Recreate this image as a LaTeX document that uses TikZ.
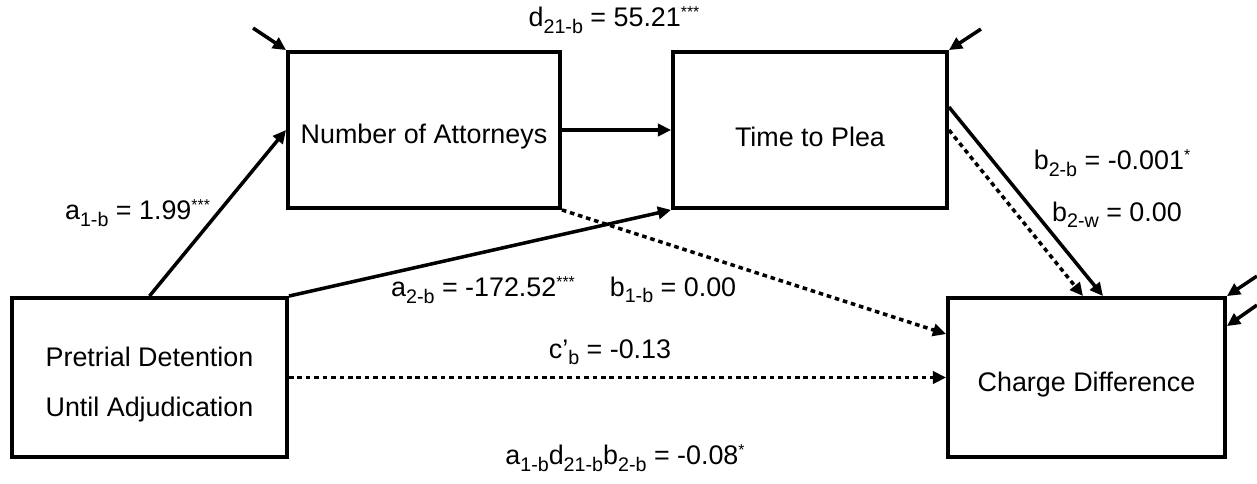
\documentclass[tikz,border=0pt]{standalone}
\usepackage{fontspec}
\setmainfont{Liberation Sans}
\usetikzlibrary{arrows.meta, positioning, calc}

\newcommand{\lo}[1]{\raisebox{-3.6pt}{\fontsize{11.2}{12}\selectfont #1}}
\newcommand{\hi}[1]{\raisebox{5.2pt}{\fontsize{9}{10}\selectfont #1}}
\newcommand{\dropstrut}{\rule{0pt}{19pt}}

\begin{document}
\begin{tikzpicture}[
        box/.style={rectangle, draw=black, line width=2.2pt, align=center, font=\fontsize{15.3}{18.4}\selectfont},
        lbl/.style={font=\fontsize{15.3}{18.4}\selectfont, inner sep=0pt},
        arrow/.style={-{Triangle[length=7.5pt,width=7pt]}, line width=2pt, black},
        dotarrow/.style={arrow, dash pattern=on 2.6pt off 2.2pt}
    ]
        \useasboundingbox (0,0) rectangle (25.14,9.66);

        % Nodes
        \node[box, minimum width=5.5cm, minimum height=3.18cm] (pre) at (2.99,2.11) {\dropstrut Pretrial Detention\\[10pt]Until Adjudication};
        \node[box, minimum width=5.44cm, minimum height=3.12cm] (num) at (8.48,7.06) {\dropstrut Number of Attorneys};
        \node[box, minimum width=5.48cm, minimum height=3.12cm] (time) at (16.2,7.06) {\dropstrut Time to Plea};
        \node[box, minimum width=5.54cm, minimum height=3.18cm] (charge) at (21.73,2.11) {\dropstrut Charge Difference};

        % Error terms
        \coordinate (enum) at ($(num.north west)+(-0.66,0.44)$);
        \coordinate (etime) at ($(time.north east)+(0.64,0.42)$);
        \coordinate (echa) at ($(charge.north east)+(0.6,0.4)$);
        \coordinate (echb) at ($(charge.north east)+(0.6,-0.18)$);

        % Arrows
        \draw[arrow] (pre.north) -- (num.west);
        \draw[arrow] (num.east) -- (time.west);
        \draw[arrow] (pre.north east) -- (time.south west);
        \draw[dotarrow] (num.south east) -- ([yshift=-0.76cm]charge.north west);
        \draw[dotarrow] (pre.east) -- (charge.west);
        \draw[arrow] ([yshift=0.46cm]time.east) -- ([xshift=0.33cm]charge.north);
        \draw[dotarrow] (time.east) -- ([xshift=-0.07cm]charge.north);
        \draw[arrow] (enum) -- (num.north west);
        \draw[arrow] (etime) -- (time.north east);
        \draw[arrow] (echa) -- (charge.north east);
        \draw[arrow] (echb) -- ([yshift=-0.6cm]charge.north east);

        % Labels
        \node[lbl] (d21) at (12.28,9.26) {d\lo{21-b} = 55.21\hi{***}};
        \node[lbl] (a1) at (2.75,5.40) {a\lo{1-b} = 1.99\hi{***}};
        \node[lbl] (a2) at (9.66,3.86) {a\lo{2-b} = -172.52\hi{***}};
        \node[lbl] (b1) at (13.46,3.86) {b\lo{1-b} = 0.00};
        \node[lbl] (cp) at (12.2,2.62) {c’\lo{b} = -0.13};
        \node[lbl] (b2b) at (22.24,6.40) {b\lo{2-b} = -0.001\hi{*}};
        \node[lbl] (b2w) at (22.34,5.36) {b\lo{2-w} = 0.00};
        \node[lbl] (ind) at (12.5,0.5) {a\lo{1-b}d\lo{21-b}b\lo{2-b} = -0.08\hi{*}};
    \end{tikzpicture}
\end{document}
